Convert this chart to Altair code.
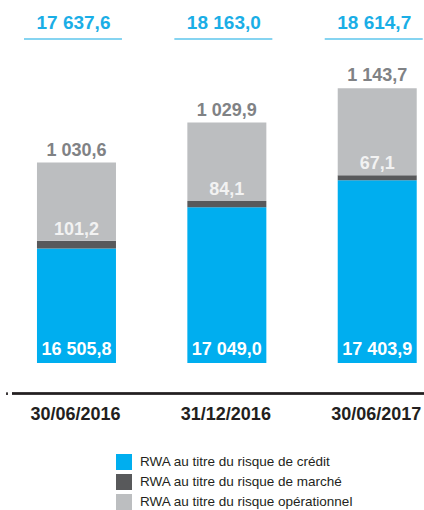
import altair as alt
import pandas as pd

# ---- data ----
dates = ["30/06/2016", "31/12/2016", "30/06/2017"]
credit = [16505.8, 17049.0, 17403.9]
market = [101.2, 84.1, 67.1]
operational = [1030.6, 1029.9, 1143.7]
totals = [17637.6, 18163.0, 18614.7]
series_names = [
    "RWA au titre du risque de crédit",
    "RWA au titre du risque de marché",
    "RWA au titre du risque opérationnel",
]
series_colors = ["#00AEEF", "#58595B", "#BCBEC0"]
BASE = 15000.0  # truncated baseline of the bars


def fr(v):
    return f"{v:,.1f}".replace(",", " ").replace(".", ",")


rows = []
for i, d in enumerate(dates):
    lo = BASE
    for name, vals in zip(series_names, [credit, market, operational]):
        hi = (credit[i] if lo == BASE else lo + vals[i])
        rows.append({"date": d, "series": name, "lo": lo, "hi": hi})
        lo = hi
bars_df = pd.DataFrame(rows)

lab_df = pd.DataFrame({
    "date": dates,
    "base": [BASE] * 3,
    "cm": [c + m for c, m in zip(credit, market)],
    "total": totals,
    "credit_t": [fr(v) for v in credit],
    "market_t": [fr(v) for v in market],
    "oper_t": [fr(v) for v in operational],
    "total_t": [fr(v) for v in totals],
})

FONT = "Liberation Sans"

x_enc = alt.X("date:N", sort=dates, axis=None,
              scale=alt.Scale(range=[37, 416.7], paddingInner=0.475, paddingOuter=0))
y_scale = alt.Scale(domain=[13065.8, 19776.3], nice=False, zero=False)

bars = alt.Chart(bars_df).mark_bar(size=79).encode(
    x=x_enc,
    y=alt.Y("lo:Q", scale=y_scale, axis=None),
    y2="hi:Q",
    color=alt.Color(
        "series:N",
        scale=alt.Scale(domain=series_names, range=series_colors),
        legend=alt.Legend(
            orient="none", legendX=116, legendY=454, title=None,
            symbolType="square", symbolSize=256, symbolStrokeWidth=0,
            symbolOpacity=1, labelFontSize=13.5, labelFont=FONT,
            labelColor="#231F20", rowPadding=4, labelOffset=8, padding=0,
            labelLimit=400,
        ),
    ),
)

base_lab = alt.Chart(lab_df)

credit_txt = base_lab.mark_text(
    font=FONT, fontSize=18, fontWeight="bold", color="#FFFFFF",
    baseline="alphabetic", dy=-8,
).encode(x=x_enc, y=alt.Y("base:Q", scale=y_scale, axis=None), text="credit_t:N")

market_txt = base_lab.mark_text(
    font=FONT, fontSize=18, fontWeight="bold", color="#F2F2F2",
    baseline="alphabetic", dy=-6,
).encode(x=x_enc, y=alt.Y("cm:Q", scale=y_scale, axis=None), text="market_t:N")

oper_txt = base_lab.mark_text(
    font=FONT, fontSize=18, fontWeight="bold", color="#808285",
    baseline="alphabetic", dy=-7,
).encode(x=x_enc, y=alt.Y("total:Q", scale=y_scale, axis=None), text="oper_t:N")

total_txt = base_lab.mark_text(
    font=FONT, fontSize=19, fontWeight="bold", color="#1AAEE6",
    baseline="alphabetic", dx=-3,
).encode(x=x_enc, y=alt.value(28.5), text="total_t:N")

total_line = base_lab.mark_tick(
    orient="horizontal", size=98, thickness=1.6, color="#1AAEE6", xOffset=-3.5,
).encode(x=x_enc, y=alt.value(39))

date_txt = base_lab.mark_text(
    font=FONT, fontSize=18, fontWeight="bold", color="#231F20",
    baseline="alphabetic", dx=-1,
).encode(x=x_enc, y=alt.value(419.5), text="date:N")

axis_line = alt.Chart(lab_df).mark_rule(color="#231F20", strokeWidth=2).encode(
    x=alt.value(12), x2=alt.value(424), y=alt.value(393.5)
)
axis_tick = alt.Chart(lab_df).mark_rule(color="#231F20", strokeWidth=1).encode(
    x=alt.value(7), y=alt.value(392.5), y2=alt.value(395)
)

chart = alt.layer(
    bars, credit_txt, market_txt, oper_txt, total_txt, total_line,
    date_txt, axis_line, axis_tick,
).properties(
    width=424, height=510, padding=0, autosize=alt.AutoSizeParams(type="none"),
).configure_view(stroke=None)

chart.save("out.html", embed_options={"renderer": "svg", "actions": False})
